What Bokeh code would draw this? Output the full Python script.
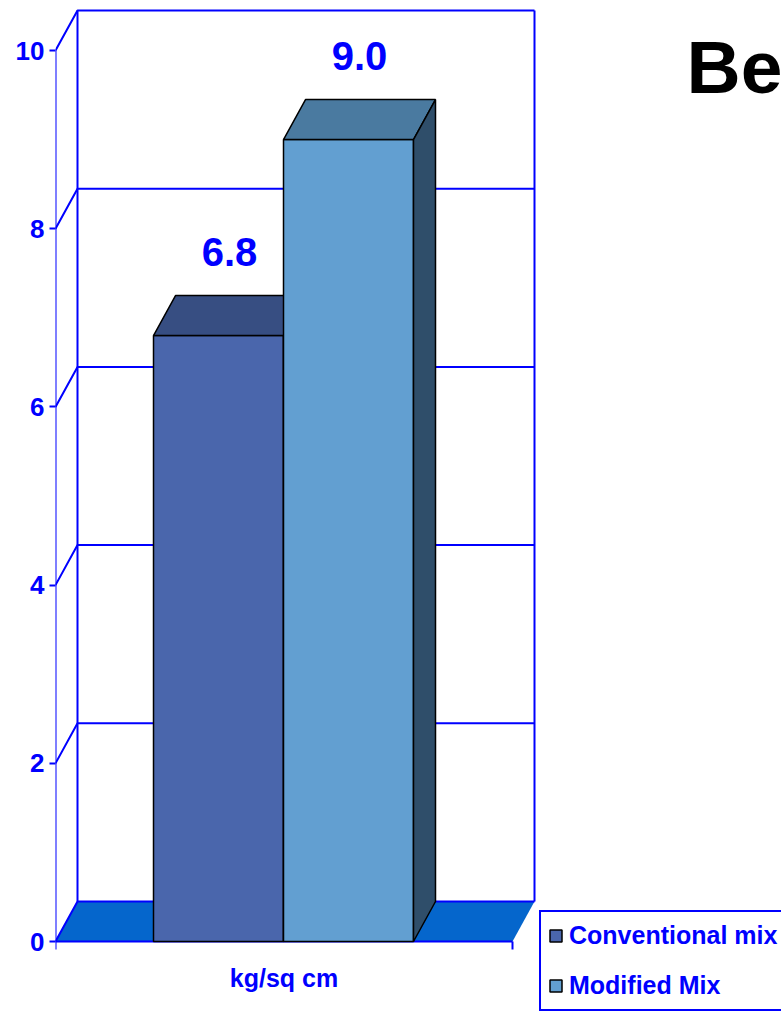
from bokeh.plotting import figure
from bokeh.models import FixedTicker, Legend, LegendItem, Label, Range1d
from bokeh.core.properties import value
from bokeh.embed import file_html
from bokeh.resources import INLINE

# ---- data ----
category = ["kg/sq cm"]
series = ["Conventional mix", "Modified Mix"]
values = [6.8, 9.0]
y_ticks = [0, 2, 4, 6, 8, 10]
title_text = "Be"

# ---- styling ----
FONT = "Liberation Sans"
BLUE = "#0000FF"
front_colors = ["#4A66AC", "#629FD1"]
top_colors = ["#374E82", "#4A7AA0"]
side_colors = ["#2C3E68", "#2F4E6A"]
FLOOR = "#0566CC"

# pixel scale of the plot frame (x: category units, y: value units)
PX_X = 457.0
PX_Y = 89.1
DX = 22 / PX_X          # depth offset of the 3-D box, x
DY = 40 / PX_Y          # depth offset of the 3-D box, y
BAR_START = 98 / PX_X
BAR_W = 130 / PX_X

p = figure(
    width=781, height=1011,
    output_backend="svg", toolbar_location=None,
    x_axis_location=None, y_axis_location="left",
    x_range=Range1d(0, 726 / PX_X),
    y_range=Range1d(-70 / PX_Y, 10 + 50 / PX_Y),
    min_border_left=55, min_border_right=0,
    min_border_top=0, min_border_bottom=0,
)
p.outline_line_color = None
p.grid.visible = False
p.background_fill_color = "white"
p.border_fill_color = "white"

# value axis
ax = p.yaxis[0]
ax.ticker = FixedTicker(ticks=y_ticks)
ax.axis_line_color = None
ax.major_tick_line_color = BLUE
ax.major_tick_line_width = 2
ax.major_tick_in = 0
ax.major_tick_out = 6
ax.minor_tick_line_color = None
ax.major_label_standoff = 5
ax.major_label_text_font = FONT
ax.major_label_text_font_style = "bold"
ax.major_label_text_font_size = "26px"
ax.major_label_text_color = BLUE

# floor of the box
p.patch([0, 1, 1 + DX, DX], [0, 0, DY, DY], fill_color=FLOOR, line_color=None)

# walls: back gridlines and left-side diagonals for every tick
top = y_ticks[-1]
xs, ys = [], []
for t in y_ticks:
    xs.append([0, DX, 1 + DX])
    ys.append([t, t + DY, t + DY])
xs += [[DX, DX], [1 + DX, 1 + DX], [0, 0], [0, 1]]
ys += [[DY, top + DY], [DY, top + DY], [0, top], [0, 0]]
p.multi_line(xs, ys, line_color=BLUE, line_width=2)

# category axis ticks
p.segment(x0=[0, 1], y0=[0, 0], x1=[0, 1], y1=[-8 / PX_Y] * 2, line_color=BLUE, line_width=2)

# bars: front, top and side faces
fronts = []
for i, v in enumerate(values):
    x0 = BAR_START + i * BAR_W
    x1 = x0 + BAR_W
    r = p.quad(left=x0, right=x1, bottom=0, top=v,
               fill_color=front_colors[i], line_color="black", line_width=1.5)
    p.patch([x0, x1, x1 + DX, x0 + DX], [v, v, v + DY, v + DY],
            fill_color=top_colors[i], line_color="black", line_width=1.5)
    p.patch([x1, x1 + DX, x1 + DX, x1], [0, DY, v + DY, v],
            fill_color=side_colors[i], line_color="black", line_width=1.5)
    fronts.append(r)

# value labels above the bars
p.text(
    x=[BAR_START + (i + 0.5) * BAR_W + DX / 2 for i in range(len(values))],
    y=values,
    text=[f"{v:.1f}" for v in values],
    y_offset=-84,
    text_align="center", text_baseline="middle",
    text_font=value(FONT), text_font_style="bold",
    text_font_size="40px", text_color=BLUE,
)

# category label
p.text(x=[0.5], y=[0], text=category, y_offset=36,
       text_align="center", text_baseline="middle",
       text_font=value(FONT), text_font_style="bold",
       text_font_size="25px", text_color=BLUE)

# slide title
p.add_layout(Label(x=(686 - 55) / PX_X, y=(941 - 66) / PX_Y, text=title_text,
                   text_align="left", text_baseline="middle",
                   text_font=FONT, text_font_style="bold",
                   text_font_size="75px", text_color="black"))

legend = Legend(
    items=[LegendItem(label=s, renderers=[r]) for s, r in zip(series, fronts)],
    location=(484, 0),
    border_line_color=BLUE, border_line_width=2, border_line_alpha=1,
    background_fill_color="white", background_fill_alpha=1,
    label_text_font=FONT, label_text_font_style="bold",
    label_text_font_size="25px", label_text_color=BLUE,
    label_height=33,
    glyph_width=15, glyph_height=15,
    padding=7, spacing=17, label_standoff=6, margin=0,
)
p.add_layout(legend)

open("out.html", "w").write(file_html(p, INLINE))
